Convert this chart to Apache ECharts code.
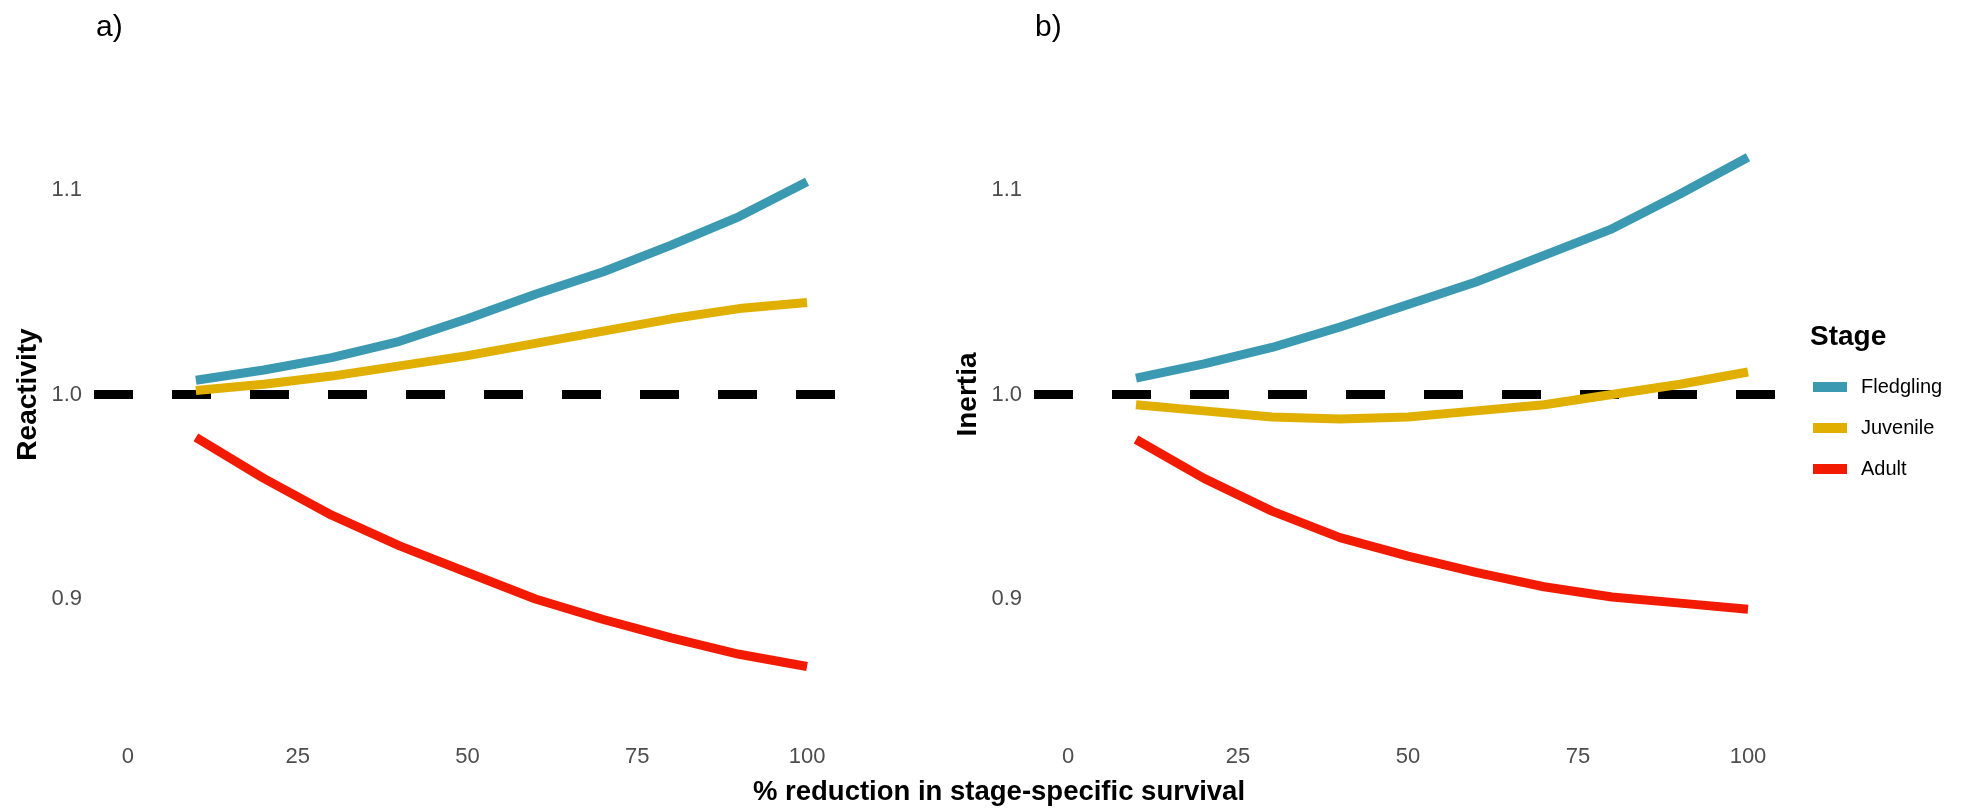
<!DOCTYPE html>
<html>
<head>
<meta charset="utf-8">
<script src="https://cdn.jsdelivr.net/npm/echarts@6/dist/echarts.min.js"></script>
<style>
  html, body { margin: 0; padding: 0; background: #ffffff; }
  #chart { width: 1972px; height: 810px; }
</style>
</head>
<body>
<div id="chart"></div>
<script>
// % reduction in stage-specific survival
const reduction = [10, 20, 30, 40, 50, 60, 70, 80, 90, 100];

// Panel a) Reactivity
const reactivityFledgling = [1.007, 1.012, 1.018, 1.026, 1.037, 1.049, 1.060, 1.073, 1.087, 1.104];
const reactivityJuvenile  = [1.002, 1.005, 1.009, 1.014, 1.019, 1.025, 1.031, 1.037, 1.042, 1.045];
const reactivityAdult     = [0.979, 0.959, 0.941, 0.926, 0.913, 0.900, 0.890, 0.881, 0.873, 0.867];

// Panel b) Inertia
const inertiaFledgling = [1.008, 1.015, 1.023, 1.033, 1.044, 1.055, 1.068, 1.081, 1.098, 1.116];
const inertiaJuvenile  = [0.995, 0.992, 0.989, 0.988, 0.989, 0.992, 0.995, 1.000, 1.005, 1.011];
const inertiaAdult     = [0.978, 0.959, 0.943, 0.930, 0.921, 0.913, 0.906, 0.901, 0.898, 0.895];

const stages = ['Fledgling', 'Juvenile', 'Adult'];
const stageColors = ['#3B9AB2', '#E1AF00', '#F21A00'];
const xTicks = [0, 25, 50, 75, 100];
const yTicks = [0.9, 1.0, 1.1];
const baseline = 1.0;

const FONT = '"Liberation Sans", Arial, sans-serif';

const pairs = (ys) => reduction.map((x, i) => [x, ys[i]]);

function xAxisFor(gridIndex) {
  return {
    type: 'value', gridIndex, min: -5, max: 105,
    axisLine: { show: false }, axisTick: { show: false }, splitLine: { show: false },
    axisLabel: { customValues: xTicks, color: '#4D4D4D', fontSize: 22, fontFamily: FONT, margin: 14 }
  };
}

function yAxisFor(gridIndex, name) {
  return {
    type: 'value', gridIndex, min: 0.835, max: 1.165,
    name, nameLocation: 'middle', nameGap: 52, nameRotate: 90,
    nameTextStyle: { fontSize: 28, fontWeight: 'bold', color: '#000', fontFamily: FONT },
    axisLine: { show: false }, axisTick: { show: false }, splitLine: { show: false },
    axisLabel: {
      customValues: yTicks, color: '#4D4D4D', fontSize: 22, fontFamily: FONT, margin: 12,
      formatter: (v) => v.toFixed(1)
    }
  };
}

function stageSeries(axisIndex, values) {
  return values.map((ys, k) => ({
    name: stages[k], type: 'line', xAxisIndex: axisIndex, yAxisIndex: axisIndex,
    data: pairs(ys), showSymbol: false, smooth: false, z: 3,
    itemStyle: { color: stageColors[k] },
    lineStyle: { color: stageColors[k], width: 9, cap: 'butt', join: 'round' },
    emphasis: { disabled: true }
  }));
}

function baselineSeries(axisIndex) {
  return {
    type: 'line', xAxisIndex: axisIndex, yAxisIndex: axisIndex, data: [], z: 1,
    markLine: {
      silent: true, symbol: 'none', z: 1,
      label: { show: false },
      lineStyle: { color: '#000', width: 9, type: [39, 39], cap: 'butt' },
      data: [{ yAxis: baseline }]
    }
  };
}

const chart = echarts.init(document.getElementById('chart'), null, { renderer: 'canvas' });

chart.setOption({
  animation: false,
  backgroundColor: '#ffffff',
  textStyle: { fontFamily: FONT },
  grid: [
    { left: 94, top: 57, width: 747, height: 675 },
    { left: 1034, top: 57, width: 748, height: 675 }
  ],
  xAxis: [xAxisFor(0), xAxisFor(1)],
  yAxis: [yAxisFor(0, 'Reactivity'), yAxisFor(1, 'Inertia')],
  title: [
    { text: 'a)', left: 96, top: 13, padding: 0,
      textStyle: { fontSize: 30, fontWeight: 'normal', color: '#000', fontFamily: FONT } },
    { text: 'b)', left: 1035, top: 13, padding: 0,
      textStyle: { fontSize: 30, fontWeight: 'normal', color: '#000', fontFamily: FONT } },
    { text: 'Stage', left: 1810, top: 323, padding: 0,
      textStyle: { fontSize: 28, fontWeight: 'bold', color: '#000', fontFamily: FONT } }
  ],
  graphic: [
    { type: 'text', x: 999, y: 792,
      style: { text: '% reduction in stage-specific survival', align: 'center', verticalAlign: 'middle',
               fill: '#000', font: 'bold 27.5px ' + FONT } }
  ],
  legend: {
    data: stages, orient: 'vertical', left: 1813, top: 377, padding: 0,
    icon: 'rect', itemWidth: 34, itemHeight: 10, itemGap: 21,
    selectedMode: false,
    textStyle: { fontSize: 20, lineHeight: 20, color: '#000', fontFamily: FONT, padding: [0, 0, 0, 9] }
  },
  series: [
    baselineSeries(0),
    ...stageSeries(0, [reactivityFledgling, reactivityJuvenile, reactivityAdult]),
    baselineSeries(1),
    ...stageSeries(1, [inertiaFledgling, inertiaJuvenile, inertiaAdult])
  ]
});
</script>
</body>
</html>
